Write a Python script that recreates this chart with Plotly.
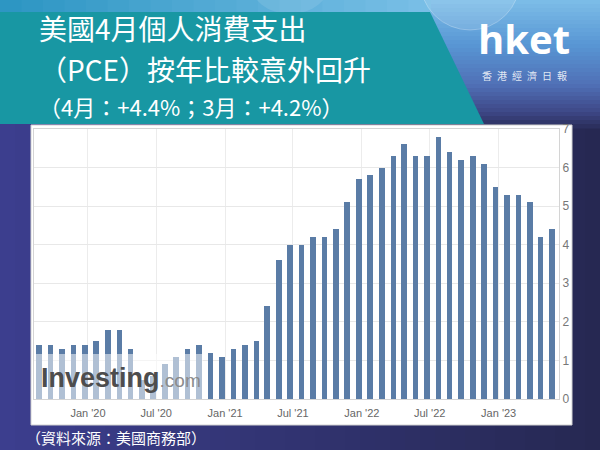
import plotly.graph_objects as go
import pandas as pd

# ---------------- data ----------------
months = [
    "2019-07", "2019-08", "2019-09", "2019-10", "2019-11", "2019-12",
    "2020-01", "2020-02", "2020-03", "2020-04", "2020-05", "2020-06",
    "2020-07", "2020-08", "2020-09", "2020-10", "2020-11", "2020-12",
    "2021-01", "2021-02", "2021-03", "2021-04", "2021-05", "2021-06",
    "2021-07", "2021-08", "2021-09", "2021-10", "2021-11", "2021-12",
    "2022-01", "2022-02", "2022-03", "2022-04", "2022-05", "2022-06",
    "2022-07", "2022-08", "2022-09", "2022-10", "2022-11", "2022-12",
    "2023-01", "2023-02", "2023-03", "2023-04",
]
pce_yoy = [
    1.4, 1.4, 1.3, 1.4, 1.4, 1.5,
    1.8, 1.8, 1.3, 0.5, 0.6, 0.9, 1.1, 1.3, 1.4, 1.2, 1.1, 1.3,
    1.4, 1.5, 2.4, 3.6, 4.0, 4.0, 4.2, 4.2, 4.4, 5.1, 5.7, 5.8,
    6.0, 6.3, 6.6, 6.3, 6.3, 6.8, 6.4, 6.2, 6.3, 6.1, 5.5, 5.3,
    5.3, 5.1, 4.2, 4.4,
]
RELEASE_LAG_DAYS = 53  # bars are plotted at (approximate) release date

title_lines = ["美國4月個人消費支出", "（PCE）按年比較意外回升", "（4月：+4.4%；3月：+4.2%）"]
source_text = "（資料來源：美國商務部）"

# ---------------- geometry helpers ----------------
W, H = 600, 450
L, R, T, B = 34, 41, 129, 51
PW, PH = W - L - R, H - T - B


def px(x):
    return (x - L) / PW


def py(y):
    return (H - B - y) / PH


def lerp(c1, c2, t):
    return "rgb(%d,%d,%d)" % tuple(round(a + (b - a) * t) for a, b in zip(c1, c2))


x_dates = pd.to_datetime(months) + pd.Timedelta(days=RELEASE_LAG_DAYS)

fig = go.Figure()
fig.add_trace(go.Bar(
    x=x_dates, y=pce_yoy,
    marker=dict(color="#5a7ca6", line=dict(width=0)),
    width=15 * 24 * 3600 * 1000,
    hoverinfo="x+y",
))

shapes = []
# background: horizontal gradient purple -> navy
N = 40
for i in range(N):
    shapes.append(dict(type="rect", xref="paper", yref="paper", layer="below",
                       x0=px(W * i / N), x1=px(W * (i + 1) / N + 1), y0=py(H), y1=py(0),
                       fillcolor=lerp((60, 62, 142), (38, 40, 82), i / (N - 1)),
                       line=dict(width=0)))
# top-right sky gradient
sky = [(0, (125, 190, 232)), (45, (88, 150, 212)), (85, (80, 112, 182)), (112, (62, 72, 135)), (128, (42, 45, 90))]
M = 32
for j in range(M):
    y0 = 128 * j / M
    y1 = 128 * (j + 1) / M + 0.6
    yc = (y0 + y1) / 2
    col = lerp(sky[-1][1], sky[-1][1], 0)
    for k in range(len(sky) - 1):
        if sky[k][0] <= yc <= sky[k + 1][0]:
            t = (yc - sky[k][0]) / (sky[k + 1][0] - sky[k][0])
            col = lerp(sky[k][1], sky[k + 1][1], t)
            break
    shapes.append(dict(type="rect", xref="paper", yref="paper", layer="below",
                       x0=px(400), x1=px(W), y0=py(y1), y1=py(y0),
                       fillcolor=col, line=dict(width=0)))
# top strip above banner
for i in range(20):
    shapes.append(dict(type="rect", xref="paper", yref="paper", layer="below",
                       x0=px(430 * i / 20), x1=px(430 * (i + 1) / 20 + 1), y0=py(14), y1=py(0),
                       fillcolor=lerp((45, 150, 195), (120, 190, 230), i / 19),
                       line=dict(width=0)))
# faint bokeh circles
shapes.append(dict(type="circle", xref="paper", yref="paper", layer="below",
                   x0=px(420), x1=px(520), y0=py(30), y1=py(-70),
                   fillcolor="rgba(255,255,255,0.12)", line=dict(color="rgba(255,255,255,0.25)", width=1)))
shapes.append(dict(type="circle", xref="paper", yref="paper", layer="below",
                   x0=px(250), x1=px(330), y0=py(14), y1=py(-50),
                   fillcolor="rgba(255,255,255,0.10)", line=dict(width=0)))
# teal banner
shapes.append(dict(type="path", xref="paper", yref="paper", layer="below",
                   path="M %f,%f L %f,%f L %f,%f L %f,%f Z" % (
                       px(0), py(12), px(430), py(12), px(484), py(124), px(0), py(124)),
                   fillcolor="#1897a3", line=dict(width=0)))
# white chart panel
shapes.append(dict(type="rect", xref="paper", yref="paper", layer="below",
                   x0=px(31), x1=px(572), y0=py(425), y1=py(125),
                   fillcolor="white", line=dict(color="#d2d2d2", width=1)))
# Investing.com watermark box (lightens bars beneath)
shapes.append(dict(type="rect", xref="paper", yref="paper", layer="above",
                   x0=0, x1=px(203), y0=0, y1=py(354),
                   fillcolor="rgba(255,255,255,0.52)", line=dict(width=0)))

annotations = []
# title lines
for txt, yy, fs in zip(title_lines, [28, 69, 106], [28, 28, 22]):
    annotations.append(dict(text=txt, xref="paper", yref="paper", x=px(37), y=py(yy),
                            xanchor="left", yanchor="middle", showarrow=False,
                            font=dict(family="Noto Sans CJK TC", size=fs, color="white")))
# hket logo
annotations.append(dict(text="<b>hket</b>", xref="paper", yref="paper", x=px(524), y=py(38),
                        xanchor="center", yanchor="middle", showarrow=False,
                        font=dict(family="Open Sans", size=40, color="white")))
annotations.append(dict(text="香\u2002港\u2002經\u2002濟\u2002日\u2002報", xref="paper", yref="paper",
                        x=px(524), y=py(75), xanchor="center", yanchor="middle", showarrow=False,
                        font=dict(family="Noto Sans CJK TC", size=10, color="rgba(255,255,255,0.85)")))
# source
annotations.append(dict(text=source_text, xref="paper", yref="paper", x=px(24), y=py(437),
                        xanchor="left", yanchor="middle", showarrow=False,
                        font=dict(family="Noto Sans CJK TC", size=15, color="white")))
# watermark text
annotations.append(dict(text="<b>Investing</b><span style='font-size:19px;color:#8c8c8c'>.com</span>",
                        xref="paper", yref="paper", x=px(39), y=py(378),
                        xanchor="left", yanchor="middle", showarrow=False,
                        font=dict(family="Liberation Sans", size=27, color="#4d4d4d")))

fig.update_layout(
    width=W, height=H,
    margin=dict(l=L, r=R, t=T, b=B),
    paper_bgcolor="#30336f",
    plot_bgcolor="white",
    showlegend=False,
    bargap=0,
    shapes=shapes,
    annotations=annotations,
    xaxis=dict(
        type="date",
        range=["2019-08-10", "2023-06-11"],
        tick0="2020-01-01", dtick="M6", tickformat="%b '%y",
        showgrid=True, gridcolor="#ececec", gridwidth=1,
        showline=True, mirror=True, linecolor="#d4d4d4", linewidth=1,
        ticks="", zeroline=False, ticklabelstandoff=4,
        tickfont=dict(family="Liberation Sans", size=11, color="#666666"),
    ),
    yaxis=dict(
        side="right", range=[0, 7], dtick=1, tick0=0,
        showgrid=True, gridcolor="#e8e8e8", gridwidth=1,
        showline=True, mirror=True, linecolor="#d4d4d4", linewidth=1,
        ticks="", zeroline=False,
        tickfont=dict(family="Liberation Sans", size=12, color="#777777"),
    ),
)

fig.write_html("out.html", config={"displayModeBar": False},
               post_script="document.body.style.margin='0';document.body.style.overflow='hidden';")
